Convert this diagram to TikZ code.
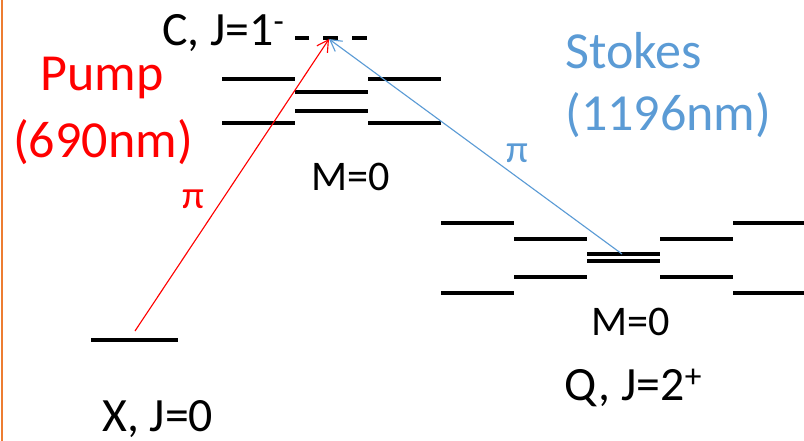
\documentclass[tikz,border=0pt]{standalone}
\usepackage{fontspec}
\setmainfont{Carlito}
\usetikzlibrary{arrows.meta}
\definecolor{pumpc}{HTML}{FF0000}
\definecolor{stokesc}{HTML}{5B9BD5}
\definecolor{framec}{HTML}{ED7D31}

\begin{document}
\begin{tikzpicture}[x=0.025cm, y=-0.025cm,
  lvl/.style={line width=2.4pt},
  big/.style={font=\fontsize{37}{44}\selectfont},
  statel/.style={font=\fontsize{34}{40}\selectfont},
  mid/.style={font=\fontsize{30}{36}\selectfont},
  pil/.style={font=\fontsize{28}{34}\selectfont},
  beam/.style={line width=0.8pt, -{Straight Barb[length=8pt,width=9pt]}}]
  \useasboundingbox (0,0) rectangle (804,441);
  \draw[framec, line width=1.5pt] (2,0) -- (2,441);
  % ground state X
  \draw[lvl] (91,340) -- (178,340);
  % upper state C, sublevels and the virtual level
  \draw[lvl] (295,38) -- (309,38);
  \draw[lvl] (323,38) -- (338,38);
  \draw[lvl] (352,38) -- (367,38);
  \foreach \xa/\xb/\ya/\yb in {222/295/79/123, 295/368/92/111, 368/441/79/123}
    \draw[lvl] (\xa,\ya) -- (\xb,\ya) (\xa,\yb) -- (\xb,\yb);
  % final state Q
  \foreach \xa/\xb/\ya/\yb in {441/514/223/293, 514/587/239/277, 587/660/254/261, 660/733/239/277, 733/804/223/293}
    \draw[lvl] (\xa,\ya) -- (\xb,\ya) (\xa,\yb) -- (\xb,\yb);
  \coordinate (xlow) at (135,331);
  \coordinate (ctop) at (329,39);
  \coordinate (qmid) at (622,254);
  \draw[beam, pumpc] (xlow) -- (ctop);
  \draw[beam, stokesc] (qmid) -- (ctop);
  \node[big, text=pumpc, anchor=base] (pumplbl) at (102,90) {Pump};
  \node[big, text=pumpc, anchor=base] (pumpnm) at (103,157) {(690nm)};
  \node[big, text=stokesc, anchor=base west, inner sep=0pt] (stokeslbl) at (565,68) {Stokes};
  \node[big, text=stokesc, anchor=base west, inner sep=0pt] (stokesnm) at (565,130) {(1196nm)};
  \node[statel, anchor=base west, inner sep=0pt] (clbl) at (162,45) {C, J=1\textsuperscript{-}};
  \node[mid, anchor=base] (mcup) at (351,190) {M=0};
  \node[mid, anchor=base] (mqlow) at (631,335) {M=0};
  \node[statel, anchor=base west, inner sep=0pt] (qlbl) at (564,400) {Q, J=2\textsuperscript{+}};
  \node[statel, anchor=base west, inner sep=0pt] (xlbl) at (102,431) {X, J=0};
  \node[pil, text=pumpc, anchor=base] (pipump) at (193,208) {π};
  \node[pil, text=stokesc, anchor=base] (pistokes) at (517,162) {π};
\end{tikzpicture}
\end{document}
